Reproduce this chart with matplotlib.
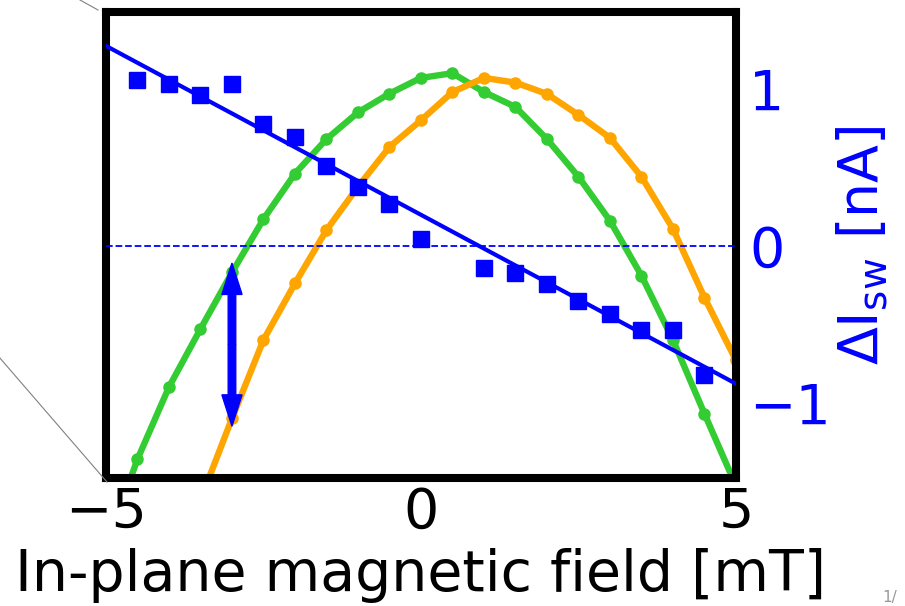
import matplotlib
matplotlib.use('Agg')
import matplotlib.pyplot as plt
import numpy as np
from matplotlib.lines import Line2D

plt.rcParams['font.family'] = ['DejaVu Sans']
plt.rcParams['mathtext.default'] = 'regular'

# Simulated curves (arbitrary units, drawn in nA scale)
field_green = [-5.0, -4.5, -4.0, -3.5, -3.0, -2.5, -2.0, -1.5, -1.0, -0.5, 0.0,
               0.5, 1.0, 1.5, 2.0, 2.5, 3.0, 3.5, 4.0, 4.5, 5.0]
green_vals = [-1.92, -1.36, -0.90, -0.53, -0.17, 0.17, 0.46, 0.68, 0.85, 0.97, 1.07,
              1.10, 0.98, 0.885, 0.68, 0.44, 0.16, -0.19, -0.60, -1.07, -1.53]

field_orange = [-3.5, -3.0, -2.5, -2.0, -1.5, -1.0, -0.5, 0.0, 0.5, 1.0, 1.5,
                2.0, 2.5, 3.0, 3.5, 4.0, 4.5, 5.0]
orange_vals = [-1.62, -1.10, -0.60, -0.24, 0.10, 0.376, 0.63, 0.80, 0.98, 1.07, 1.04,
               0.968, 0.834, 0.688, 0.44, 0.108, -0.33, -0.73]

# Measured switching current difference
field_meas = [-4.5, -4.0, -3.5, -3.0, -2.5, -2.0, -1.5, -1.0, -0.5, 0.0,
              1.0, 1.5, 2.0, 2.5, 3.0, 3.5, 4.0, 4.5]
dIsw = [1.057, 1.032, 0.962, 1.032, 0.777, 0.694, 0.510, 0.376, 0.268, 0.045,
        -0.140, -0.172, -0.242, -0.350, -0.433, -0.535, -0.535, -0.822]

# linear fit line
fit_slope = -0.2153
fit_intercept = 0.1975
fit_x = [-5.0, 5.0]

# arrow marking the shift
arrow_x = -3.0
arrow_top = -0.11
arrow_bottom = -1.15

fig = plt.figure(figsize=(9.05, 6.06), dpi=100)
ax = fig.add_axes([0.1171, 0.2112, 0.6961, 0.769])

ax.plot(field_green, green_vals, color='#33cc33', lw=4.6, marker='o', ms=8, zorder=2)
ax.plot(field_orange, orange_vals, color='#ffa500', lw=4.6, marker='o', ms=8, zorder=2)

ax.axhline(0, color='blue', ls='--', lw=1.3, zorder=3)
fx = np.array(fit_x)
ax.plot(fx, fit_intercept + fit_slope * fx, color='blue', lw=3.0, zorder=4)
ax.plot(field_meas, dIsw, 's', color='blue', ms=11, zorder=5)

# double-headed arrow: two arrows from the middle
arrow_mid = (arrow_top + arrow_bottom) / 2
for end in (arrow_top, arrow_bottom):
    ax.arrow(arrow_x, arrow_mid, 0, end - arrow_mid, width=0.12, head_width=0.32,
             head_length=0.2, length_includes_head=True, color='blue', lw=1,
             zorder=6)

ax.set_xlim(-5, 5)
ax.set_ylim(-1.48, 1.49)
ax.set_xticks([-5, 0, 5])
ax.set_yticks([-1, 0, 1])

ax.yaxis.tick_right()
ax.yaxis.set_label_position('right')
ax.tick_params(axis='x', labelsize=40, length=2.5, width=0.8, pad=3)
ax.tick_params(axis='y', labelsize=40, length=2.5, width=0.8, pad=7,
               colors='blue')

for sp in ax.spines.values():
    sp.set_linewidth(5.8)
    sp.set_color('black')

ax.set_xlabel('In-plane magnetic field [mT]', fontsize=41, labelpad=6)
ax.set_ylabel(r'$\Delta I_{sw}$ [nA]', fontsize=40, color='blue', labelpad=3)

# inset connector lines
fig.add_artist(Line2D([0.0884, 0.1083], [1.0, 0.9835], color='gray', lw=0.8))
fig.add_artist(Line2D([0.0, 0.1182], [0.409, 0.2046], color='gray', lw=0.8))
fig.text(0.975, 0.002, '1/', fontsize=11, color='#999999', ha='left', va='bottom')

fig.savefig('out.png', dpi=100)
